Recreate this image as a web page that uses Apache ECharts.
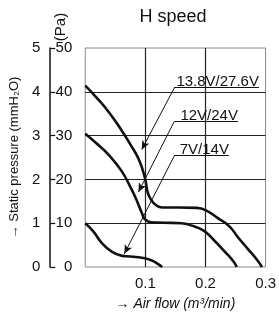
<!DOCTYPE html>
<html>
<head>
<meta charset="utf-8">
<script src="https://cdn.jsdelivr.net/npm/echarts@6/dist/echarts.min.js"></script>
<style>
  html, body { margin: 0; padding: 0; background: #fff; }
  #chart { width: 279px; height: 316px; }
</style>
</head>
<body>
<div id="chart"></div>
<script>
// curve data: air flow (m3/min) vs static pressure (Pa)
const flow13 = [0, 0.018, 0.039, 0.06, 0.075, 0.089, 0.099, 0.104, 0.109, 0.117, 0.128, 0.155, 0.185, 0.2, 0.22, 0.239, 0.254, 0.27, 0.286, 0.294];
const pa13 = [41.4, 38.8, 35.4, 31.3, 28.0, 24.6, 20.5, 17.0, 15.5, 14.2, 13.6, 13.6, 13.5, 13.0, 11.2, 9.4, 6.8, 4.2, 1.6, 0];

const flow12 = [0, 0.018, 0.039, 0.06, 0.075, 0.085, 0.094, 0.1, 0.11, 0.13, 0.16, 0.176, 0.197, 0.215, 0.233, 0.247, 0.252];
const pa12 = [30.4, 28.3, 25.6, 22.0, 18.3, 15.4, 12.4, 10.8, 10.2, 10.1, 10.0, 9.5, 8.3, 6.0, 3.4, 1.2, 0];

const flow7 = [0, 0.013, 0.028, 0.044, 0.06, 0.075, 0.099, 0.112, 0.122, 0.128];
const pa7 = [10, 8.2, 5.4, 3.5, 2.6, 2.4, 2.0, 1.4, 0.6, 0];

const seriesNames = ['13.8V/27.6V', '12V/24V', '7V/14V'];
// callouts in data units: underline start x, underline end x, underline y, arrow tip [x, y]
const labelStartX = [0.149, 0.148, 0.149];
const labelEndX = [0.289, 0.254, 0.239];
const labelY = [41.1, 33.2, 25.6];
const arrowTip = [[0.094, 26.8], [0.0885, 17.1], [0.065, 3.0]];

const paTicks = [0, 10, 20, 30, 40, 50];
const mmTicks = [0, 1, 2, 3, 4, 5];
const flowTicks = [0, 0.1, 0.2, 0.3];

const font = 'Liberation Sans, Arial, sans-serif';
const ink = '#111';

const chart = echarts.init(document.getElementById('chart'));

function pairs(xs, ys) {
  return xs.map((x, i) => [x, ys[i]]);
}

function curve(i, xs, ys) {
  return {
    name: seriesNames[i],
    type: 'line',
    data: pairs(xs, ys),
    showSymbol: false,
    smooth: 0.5,
    lineStyle: { color: ink, width: 2.6 },
    markLine: {
      silent: true,
      animation: false,
      symbol: ['none', 'none'],
      lineStyle: { color: ink, width: 1, type: 'solid' },
      data: [
        [
          { coord: [labelStartX[i], labelY[i]] },
          {
            coord: [labelEndX[i], labelY[i]],
            label: {
              show: true,
              position: 'insideEndTop',
              distance: [0, 1],
              offset: [0, 3],
              formatter: seriesNames[i],
              fontFamily: font,
              fontSize: 15,
              color: ink
            }
          }
        ],
        [
          { coord: [labelStartX[i], labelY[i]], symbol: 'none' },
          { coord: arrowTip[i], symbol: 'arrow', symbolSize: [6, 9], label: { show: false } }
        ]
      ]
    }
  };
}

const option = {
  animation: false,
  title: {
    text: 'H speed',
    left: 173,
    top: 8,
    padding: 0,
    textAlign: 'center',
    textStyle: { fontFamily: font, fontSize: 18, fontWeight: 'normal', color: ink }
  },
  grid: {
    left: 78, right: 10, top: 48, bottom: 44,
    show: true,
    borderColor: '#888',
    borderWidth: 1
  },
  xAxis: {
    type: 'value',
    min: flowTicks[0],
    max: flowTicks[flowTicks.length - 1],
    interval: 0.1,
    name: '→ Air flow (m³/min)',
    nameLocation: 'middle',
    nameGap: 30,
    nameTextStyle: { fontFamily: font, fontSize: 14, fontStyle: 'italic', color: ink },
    axisLine: { show: false },
    axisTick: { show: false },
    axisLabel: {
      margin: 9,
      fontFamily: font,
      fontSize: 15,
      color: ink,
      formatter: v => (v === 0 ? '' : v.toFixed(1))
    },
    splitLine: { show: true, showMinLine: false, showMaxLine: false, lineStyle: { color: '#222', width: 1.2 } }
  },
  yAxis: [
    {
      type: 'value',
      min: paTicks[0],
      max: paTicks[paTicks.length - 1],
      interval: 10,
      position: 'left',
      axisLine: { show: false },
      axisTick: { show: false },
      axisLabel: { margin: 13, fontFamily: font, fontSize: 15, color: ink },
      splitLine: { show: true, showMinLine: false, showMaxLine: false, lineStyle: { color: '#222', width: 1.2 } }
    },
    {
      type: 'value',
      min: mmTicks[0],
      max: mmTicks[mmTicks.length - 1],
      interval: 1,
      position: 'left',
      offset: 35,
      name: '→ Static pressure (mmH₂O)',
      nameLocation: 'middle',
      nameGap: 27,
      nameRotate: 90,
      nameTextStyle: { fontFamily: font, fontSize: 13, color: ink },
      axisLine: { show: true, lineStyle: { color: ink, width: 1.5 } },
      axisTick: { show: true, inside: true, length: 5, lineStyle: { color: ink, width: 1.2 } },
      axisLabel: { margin: 10, fontFamily: font, fontSize: 15, color: ink },
      splitLine: { show: false }
    }
  ],
  graphic: [
    {
      type: 'text',
      x: 61,
      y: 27,
      rotation: Math.PI / 2,
      style: {
        text: '(Pa)',
        fontFamily: font,
        fontSize: 15,
        fill: ink,
        align: 'center',
        verticalAlign: 'middle'
      }
    }
  ],
  series: [
    curve(0, flow13, pa13),
    curve(1, flow12, pa12),
    curve(2, flow7, pa7)
  ]
};

chart.setOption(option);
</script>
</body>
</html>
